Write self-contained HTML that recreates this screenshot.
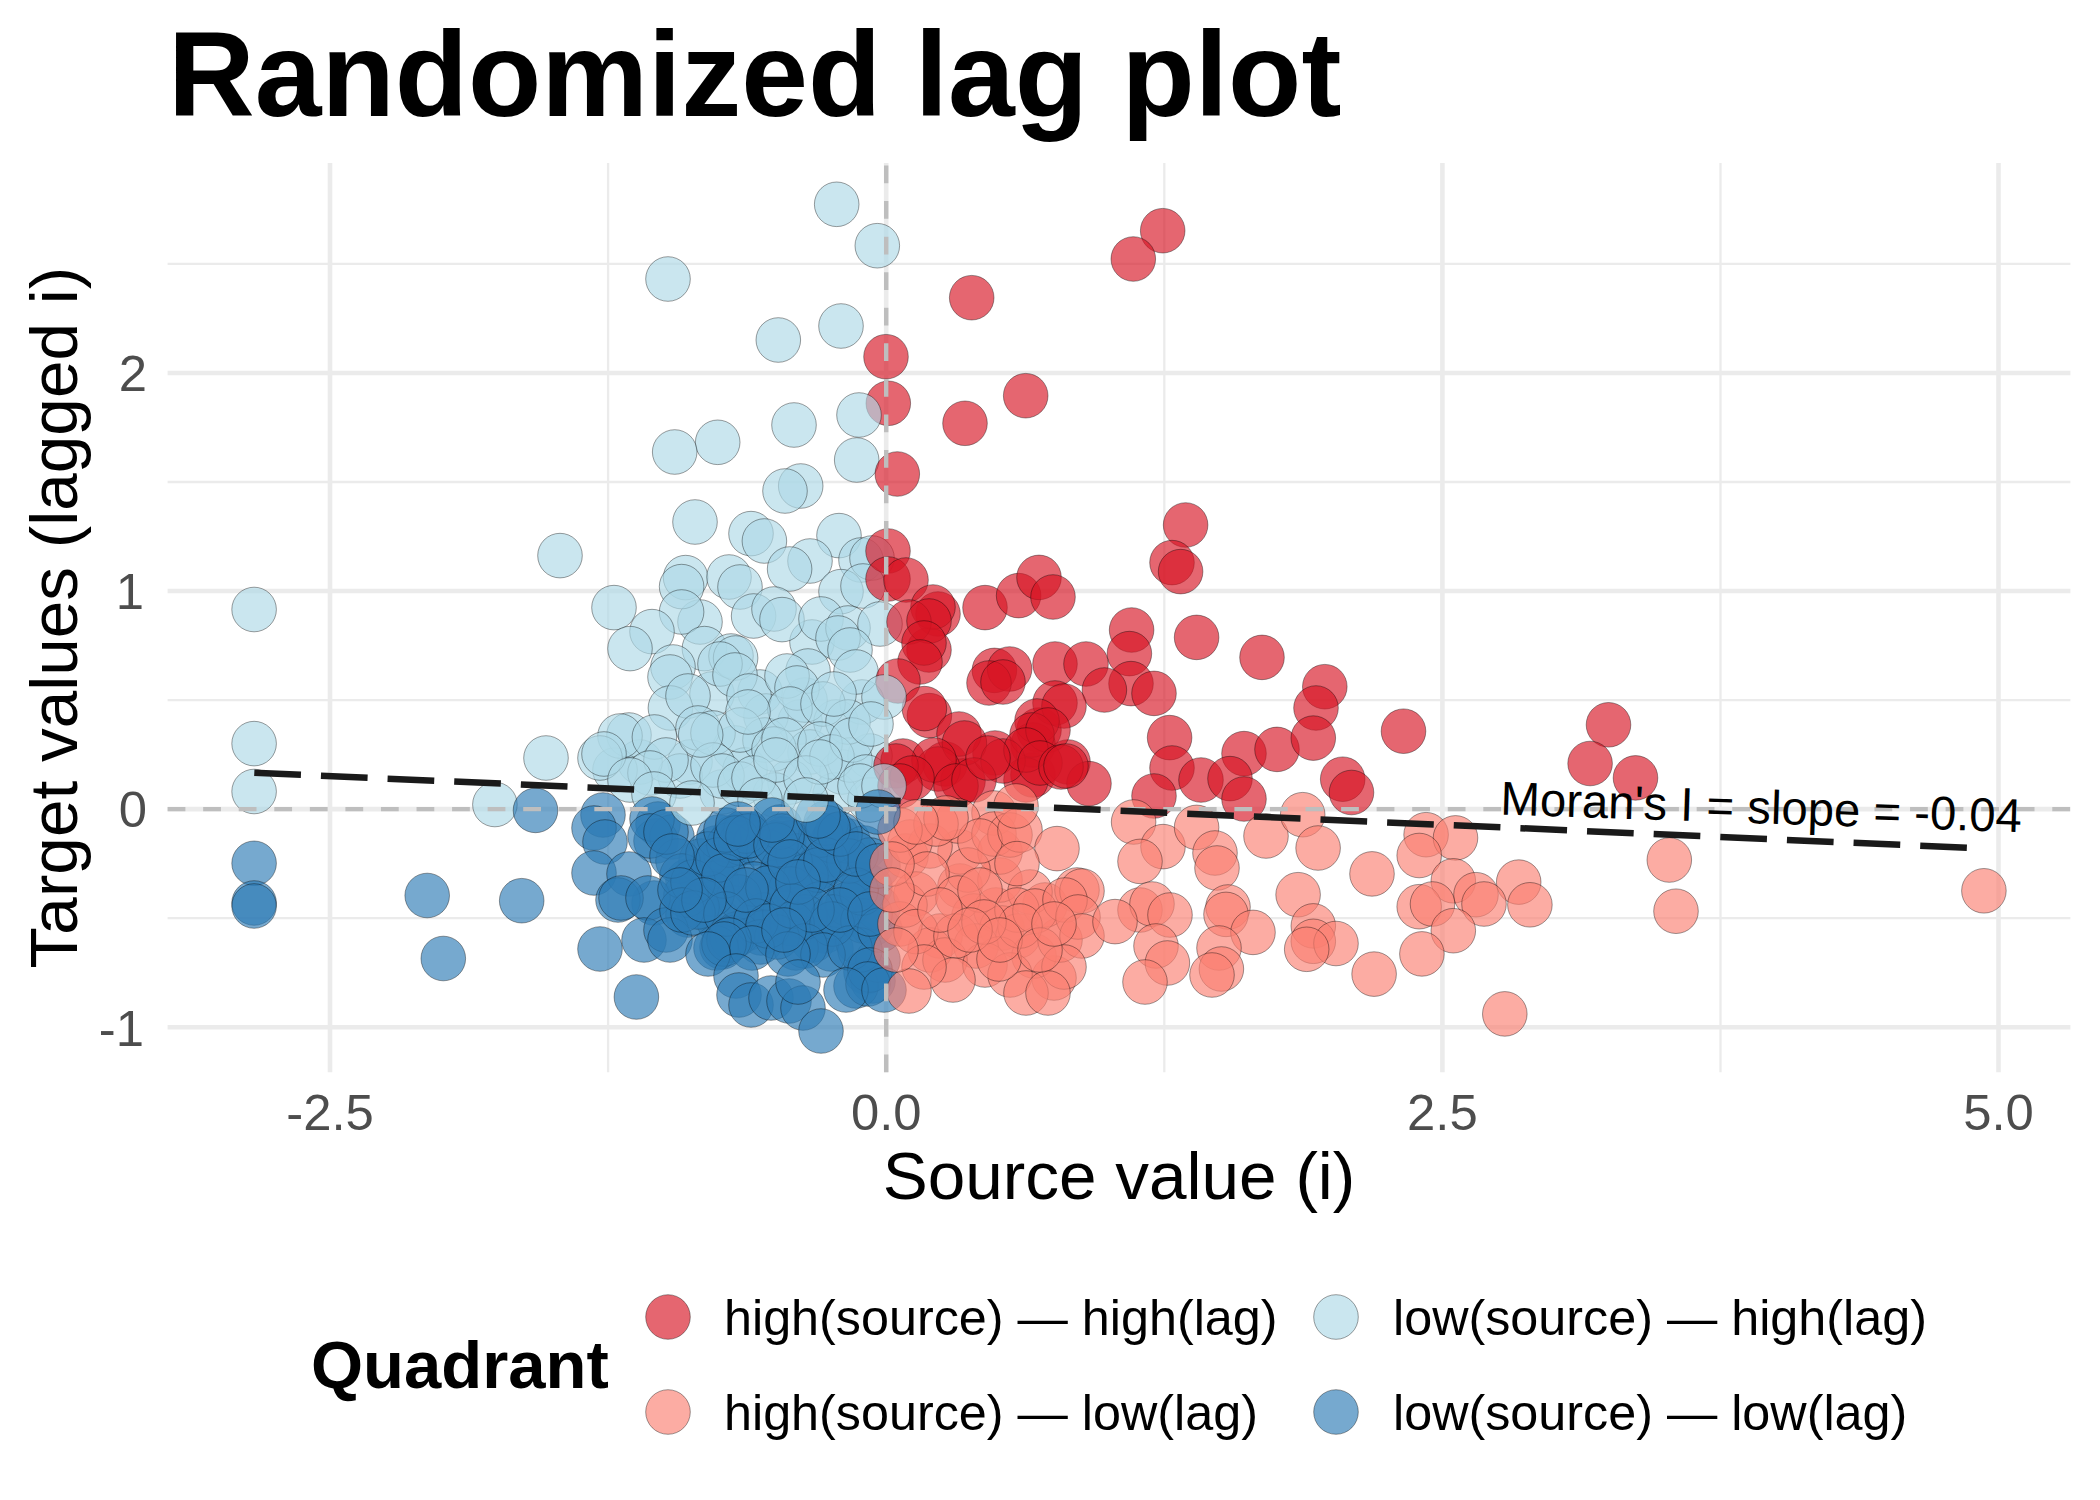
<!DOCTYPE html>
<html><head><meta charset="utf-8"><title>Randomized lag plot</title>
<style>
html,body{margin:0;padding:0;background:#fff;}
body{width:2100px;height:1500px;overflow:hidden;font-family:"Liberation Sans",sans-serif;}
svg{display:block;}
text{font-family:"Liberation Sans",sans-serif;}
.tick{font-size:50.8px;fill:#4d4d4d;}
.axt{font-size:67.5px;fill:#000;}
.leg{font-size:50.3px;fill:#000;}
</style></head><body>
<svg width="2100" height="1500" viewBox="0 0 2100 1500">
<rect width="2100" height="1500" fill="#fff"/>
<text x="168" y="116" font-size="120" font-weight="bold" fill="#000">Randomized lag plot</text>
<g stroke="#ebebeb" fill="none">
<line x1="608.1" x2="608.1" y1="163" y2="1072.3" stroke-width="2.3"/>
<line x1="1164.3" x2="1164.3" y1="163" y2="1072.3" stroke-width="2.3"/>
<line x1="1720.5" x2="1720.5" y1="163" y2="1072.3" stroke-width="2.3"/>
<line y1="918.1" y2="918.1" x1="167.6" x2="2070.4" stroke-width="2.3"/>
<line y1="700.1" y2="700.1" x1="167.6" x2="2070.4" stroke-width="2.3"/>
<line y1="482.0" y2="482.0" x1="167.6" x2="2070.4" stroke-width="2.3"/>
<line y1="263.9" y2="263.9" x1="167.6" x2="2070.4" stroke-width="2.3"/>
<line x1="330.0" x2="330.0" y1="163" y2="1072.3" stroke-width="4.6"/>
<line x1="886.2" x2="886.2" y1="163" y2="1072.3" stroke-width="4.6"/>
<line x1="1442.4" x2="1442.4" y1="163" y2="1072.3" stroke-width="4.6"/>
<line x1="1998.5" x2="1998.5" y1="163" y2="1072.3" stroke-width="4.6"/>
<line y1="1027.2" y2="1027.2" x1="167.6" x2="2070.4" stroke-width="4.6"/>
<line y1="809.1" y2="809.1" x1="167.6" x2="2070.4" stroke-width="4.6"/>
<line y1="591.0" y2="591.0" x1="167.6" x2="2070.4" stroke-width="4.6"/>
<line y1="373.0" y2="373.0" x1="167.6" x2="2070.4" stroke-width="4.6"/>
</g>
<g stroke="#000" stroke-opacity="0.5" stroke-width="0.75" fill-opacity="0.65">
<circle cx="712.0" cy="694.0" r="22.3" fill="#add8e6"/>
<circle cx="760.0" cy="692.0" r="22.3" fill="#add8e6"/>
<circle cx="690.0" cy="762.0" r="22.3" fill="#add8e6"/>
<circle cx="735.0" cy="748.0" r="22.3" fill="#add8e6"/>
<circle cx="800.0" cy="722.0" r="22.3" fill="#add8e6"/>
<circle cx="766.0" cy="716.0" r="22.3" fill="#add8e6"/>
<circle cx="810.0" cy="752.0" r="22.3" fill="#add8e6"/>
<circle cx="842.0" cy="772.0" r="22.3" fill="#add8e6"/>
<circle cx="870.0" cy="756.0" r="22.3" fill="#add8e6"/>
<circle cx="790.0" cy="782.0" r="22.3" fill="#add8e6"/>
<circle cx="680.0" cy="776.0" r="22.3" fill="#add8e6"/>
<circle cx="722.0" cy="792.0" r="22.3" fill="#add8e6"/>
<circle cx="640.0" cy="762.0" r="22.3" fill="#add8e6"/>
<circle cx="836.0" cy="722.0" r="22.3" fill="#add8e6"/>
<circle cx="862.0" cy="702.0" r="22.3" fill="#add8e6"/>
<circle cx="812.0" cy="642.0" r="22.3" fill="#add8e6"/>
<circle cx="700.0" cy="622.0" r="22.3" fill="#add8e6"/>
<circle cx="745.0" cy="770.0" r="22.3" fill="#add8e6"/>
<circle cx="775.0" cy="795.0" r="22.3" fill="#add8e6"/>
<circle cx="835.0" cy="795.0" r="22.3" fill="#add8e6"/>
<circle cx="615.0" cy="770.0" r="22.3" fill="#add8e6"/>
<circle cx="870.0" cy="800.0" r="22.3" fill="#add8e6"/>
<circle cx="850.0" cy="760.0" r="22.3" fill="#add8e6"/>
<circle cx="805.0" cy="700.0" r="22.3" fill="#add8e6"/>
<circle cx="765.0" cy="740.0" r="22.3" fill="#add8e6"/>
<circle cx="836.7" cy="204.3" r="22.3" fill="#add8e6"/>
<circle cx="877.3" cy="245.7" r="22.3" fill="#add8e6"/>
<circle cx="668.0" cy="279.0" r="22.3" fill="#add8e6"/>
<circle cx="841.0" cy="326.0" r="22.3" fill="#add8e6"/>
<circle cx="778.3" cy="340.0" r="22.3" fill="#add8e6"/>
<circle cx="794.0" cy="425.0" r="22.3" fill="#add8e6"/>
<circle cx="717.7" cy="442.3" r="22.3" fill="#add8e6"/>
<circle cx="674.7" cy="452.0" r="22.3" fill="#add8e6"/>
<circle cx="856.7" cy="460.0" r="22.3" fill="#add8e6"/>
<circle cx="800.7" cy="486.0" r="22.3" fill="#add8e6"/>
<circle cx="785.0" cy="491.0" r="22.3" fill="#add8e6"/>
<circle cx="560.0" cy="555.6" r="22.3" fill="#add8e6"/>
<circle cx="695.0" cy="522.0" r="22.3" fill="#add8e6"/>
<circle cx="751.0" cy="533.6" r="22.3" fill="#add8e6"/>
<circle cx="764.4" cy="541.0" r="22.3" fill="#add8e6"/>
<circle cx="839.0" cy="535.6" r="22.3" fill="#add8e6"/>
<circle cx="810.0" cy="561.0" r="22.3" fill="#add8e6"/>
<circle cx="789.6" cy="569.0" r="22.3" fill="#add8e6"/>
<circle cx="861.0" cy="560.0" r="22.3" fill="#add8e6"/>
<circle cx="872.0" cy="558.0" r="22.3" fill="#add8e6"/>
<circle cx="685.6" cy="577.6" r="22.3" fill="#add8e6"/>
<circle cx="681.6" cy="586.6" r="22.3" fill="#add8e6"/>
<circle cx="729.0" cy="577.0" r="22.3" fill="#add8e6"/>
<circle cx="740.0" cy="587.0" r="22.3" fill="#add8e6"/>
<circle cx="841.0" cy="591.6" r="22.3" fill="#add8e6"/>
<circle cx="863.0" cy="586.0" r="22.3" fill="#add8e6"/>
<circle cx="614.0" cy="607.6" r="22.3" fill="#add8e6"/>
<circle cx="681.6" cy="612.0" r="22.3" fill="#add8e6"/>
<circle cx="753.6" cy="616.0" r="22.3" fill="#add8e6"/>
<circle cx="774.0" cy="609.0" r="22.3" fill="#add8e6"/>
<circle cx="782.0" cy="619.6" r="22.3" fill="#add8e6"/>
<circle cx="821.0" cy="619.0" r="22.3" fill="#add8e6"/>
<circle cx="848.0" cy="628.0" r="22.3" fill="#add8e6"/>
<circle cx="838.0" cy="638.0" r="22.3" fill="#add8e6"/>
<circle cx="880.0" cy="624.0" r="22.3" fill="#add8e6"/>
<circle cx="652.0" cy="631.6" r="22.3" fill="#add8e6"/>
<circle cx="630.0" cy="648.6" r="22.3" fill="#add8e6"/>
<circle cx="704.4" cy="648.6" r="22.3" fill="#add8e6"/>
<circle cx="731.0" cy="656.0" r="22.3" fill="#add8e6"/>
<circle cx="735.6" cy="658.0" r="22.3" fill="#add8e6"/>
<circle cx="673.0" cy="667.0" r="22.3" fill="#add8e6"/>
<circle cx="670.0" cy="677.0" r="22.3" fill="#add8e6"/>
<circle cx="720.0" cy="664.0" r="22.3" fill="#add8e6"/>
<circle cx="735.0" cy="675.0" r="22.3" fill="#add8e6"/>
<circle cx="749.0" cy="696.0" r="22.3" fill="#add8e6"/>
<circle cx="808.0" cy="671.0" r="22.3" fill="#add8e6"/>
<circle cx="787.0" cy="676.0" r="22.3" fill="#add8e6"/>
<circle cx="797.0" cy="688.0" r="22.3" fill="#add8e6"/>
<circle cx="790.0" cy="709.0" r="22.3" fill="#add8e6"/>
<circle cx="823.0" cy="704.0" r="22.3" fill="#add8e6"/>
<circle cx="850.0" cy="650.0" r="22.3" fill="#add8e6"/>
<circle cx="856.0" cy="672.0" r="22.3" fill="#add8e6"/>
<circle cx="848.0" cy="722.0" r="22.3" fill="#add8e6"/>
<circle cx="834.0" cy="694.0" r="22.3" fill="#add8e6"/>
<circle cx="670.4" cy="708.0" r="22.3" fill="#add8e6"/>
<circle cx="688.0" cy="696.0" r="22.3" fill="#add8e6"/>
<circle cx="698.0" cy="728.0" r="22.3" fill="#add8e6"/>
<circle cx="713.0" cy="733.0" r="22.3" fill="#add8e6"/>
<circle cx="740.0" cy="730.0" r="22.3" fill="#add8e6"/>
<circle cx="748.0" cy="712.0" r="22.3" fill="#add8e6"/>
<circle cx="774.0" cy="749.0" r="22.3" fill="#add8e6"/>
<circle cx="784.0" cy="740.0" r="22.3" fill="#add8e6"/>
<circle cx="820.0" cy="744.0" r="22.3" fill="#add8e6"/>
<circle cx="832.0" cy="757.0" r="22.3" fill="#add8e6"/>
<circle cx="852.0" cy="740.0" r="22.3" fill="#add8e6"/>
<circle cx="629.0" cy="735.0" r="22.3" fill="#add8e6"/>
<circle cx="620.0" cy="736.0" r="22.3" fill="#add8e6"/>
<circle cx="654.4" cy="737.0" r="22.3" fill="#add8e6"/>
<circle cx="600.0" cy="758.0" r="22.3" fill="#add8e6"/>
<circle cx="604.0" cy="754.0" r="22.3" fill="#add8e6"/>
<circle cx="666.0" cy="760.0" r="22.3" fill="#add8e6"/>
<circle cx="650.0" cy="773.0" r="22.3" fill="#add8e6"/>
<circle cx="630.0" cy="780.0" r="22.3" fill="#add8e6"/>
<circle cx="546.0" cy="758.0" r="22.3" fill="#add8e6"/>
<circle cx="713.0" cy="765.0" r="22.3" fill="#add8e6"/>
<circle cx="722.0" cy="776.0" r="22.3" fill="#add8e6"/>
<circle cx="740.0" cy="784.0" r="22.3" fill="#add8e6"/>
<circle cx="754.0" cy="778.0" r="22.3" fill="#add8e6"/>
<circle cx="776.0" cy="760.0" r="22.3" fill="#add8e6"/>
<circle cx="806.0" cy="778.0" r="22.3" fill="#add8e6"/>
<circle cx="866.0" cy="777.0" r="22.3" fill="#add8e6"/>
<circle cx="860.0" cy="786.0" r="22.3" fill="#add8e6"/>
<circle cx="654.0" cy="794.0" r="22.3" fill="#add8e6"/>
<circle cx="820.0" cy="762.0" r="22.3" fill="#add8e6"/>
<circle cx="760.0" cy="800.0" r="22.3" fill="#add8e6"/>
<circle cx="254.1" cy="609.5" r="22.3" fill="#add8e6"/>
<circle cx="254.1" cy="743.6" r="22.3" fill="#add8e6"/>
<circle cx="254.1" cy="791.5" r="22.3" fill="#add8e6"/>
<circle cx="494.9" cy="804.5" r="22.3" fill="#add8e6"/>
<circle cx="700.7" cy="735.0" r="22.3" fill="#add8e6"/>
<circle cx="658.0" cy="824.0" r="22.3" fill="#2c7bb6"/>
<circle cx="656.0" cy="841.0" r="22.3" fill="#2c7bb6"/>
<circle cx="672.0" cy="837.0" r="22.3" fill="#2c7bb6"/>
<circle cx="654.0" cy="903.0" r="22.3" fill="#2c7bb6"/>
<circle cx="688.0" cy="881.0" r="22.3" fill="#2c7bb6"/>
<circle cx="701.0" cy="876.0" r="22.3" fill="#2c7bb6"/>
<circle cx="688.0" cy="915.0" r="22.3" fill="#2c7bb6"/>
<circle cx="701.0" cy="907.0" r="22.3" fill="#2c7bb6"/>
<circle cx="716.0" cy="848.0" r="22.3" fill="#2c7bb6"/>
<circle cx="701.0" cy="861.0" r="22.3" fill="#2c7bb6"/>
<circle cx="726.0" cy="854.0" r="22.3" fill="#2c7bb6"/>
<circle cx="711.0" cy="867.0" r="22.3" fill="#2c7bb6"/>
<circle cx="732.0" cy="870.0" r="22.3" fill="#2c7bb6"/>
<circle cx="717.0" cy="883.0" r="22.3" fill="#2c7bb6"/>
<circle cx="734.0" cy="837.0" r="22.3" fill="#2c7bb6"/>
<circle cx="719.0" cy="837.0" r="22.3" fill="#2c7bb6"/>
<circle cx="744.0" cy="832.0" r="22.3" fill="#2c7bb6"/>
<circle cx="729.0" cy="845.0" r="22.3" fill="#2c7bb6"/>
<circle cx="756.0" cy="843.0" r="22.3" fill="#2c7bb6"/>
<circle cx="741.0" cy="843.0" r="22.3" fill="#2c7bb6"/>
<circle cx="784.0" cy="839.0" r="22.3" fill="#2c7bb6"/>
<circle cx="769.0" cy="852.0" r="22.3" fill="#2c7bb6"/>
<circle cx="790.0" cy="843.0" r="22.3" fill="#2c7bb6"/>
<circle cx="775.0" cy="843.0" r="22.3" fill="#2c7bb6"/>
<circle cx="776.0" cy="882.0" r="22.3" fill="#2c7bb6"/>
<circle cx="761.0" cy="895.0" r="22.3" fill="#2c7bb6"/>
<circle cx="734.0" cy="908.0" r="22.3" fill="#2c7bb6"/>
<circle cx="719.0" cy="921.0" r="22.3" fill="#2c7bb6"/>
<circle cx="764.0" cy="915.0" r="22.3" fill="#2c7bb6"/>
<circle cx="749.0" cy="928.0" r="22.3" fill="#2c7bb6"/>
<circle cx="776.0" cy="920.0" r="22.3" fill="#2c7bb6"/>
<circle cx="761.0" cy="933.0" r="22.3" fill="#2c7bb6"/>
<circle cx="737.0" cy="934.0" r="22.3" fill="#2c7bb6"/>
<circle cx="722.0" cy="947.0" r="22.3" fill="#2c7bb6"/>
<circle cx="732.0" cy="938.0" r="22.3" fill="#2c7bb6"/>
<circle cx="760.0" cy="942.0" r="22.3" fill="#2c7bb6"/>
<circle cx="716.0" cy="948.0" r="22.3" fill="#2c7bb6"/>
<circle cx="800.0" cy="900.0" r="22.3" fill="#2c7bb6"/>
<circle cx="785.0" cy="913.0" r="22.3" fill="#2c7bb6"/>
<circle cx="798.0" cy="856.0" r="22.3" fill="#2c7bb6"/>
<circle cx="783.0" cy="869.0" r="22.3" fill="#2c7bb6"/>
<circle cx="826.0" cy="864.0" r="22.3" fill="#2c7bb6"/>
<circle cx="811.0" cy="877.0" r="22.3" fill="#2c7bb6"/>
<circle cx="834.0" cy="854.0" r="22.3" fill="#2c7bb6"/>
<circle cx="819.0" cy="867.0" r="22.3" fill="#2c7bb6"/>
<circle cx="848.0" cy="841.0" r="22.3" fill="#2c7bb6"/>
<circle cx="833.0" cy="841.0" r="22.3" fill="#2c7bb6"/>
<circle cx="836.0" cy="835.0" r="22.3" fill="#2c7bb6"/>
<circle cx="821.0" cy="835.0" r="22.3" fill="#2c7bb6"/>
<circle cx="870.0" cy="887.0" r="22.3" fill="#2c7bb6"/>
<circle cx="855.0" cy="900.0" r="22.3" fill="#2c7bb6"/>
<circle cx="864.0" cy="884.0" r="22.3" fill="#2c7bb6"/>
<circle cx="849.0" cy="897.0" r="22.3" fill="#2c7bb6"/>
<circle cx="840.0" cy="918.0" r="22.3" fill="#2c7bb6"/>
<circle cx="825.0" cy="931.0" r="22.3" fill="#2c7bb6"/>
<circle cx="813.0" cy="940.0" r="22.3" fill="#2c7bb6"/>
<circle cx="831.0" cy="949.0" r="22.3" fill="#2c7bb6"/>
<circle cx="796.0" cy="948.0" r="22.3" fill="#2c7bb6"/>
<circle cx="858.0" cy="942.0" r="22.3" fill="#2c7bb6"/>
<circle cx="872.0" cy="924.0" r="22.3" fill="#2c7bb6"/>
<circle cx="826.0" cy="823.0" r="22.3" fill="#2c7bb6"/>
<circle cx="780.0" cy="827.0" r="22.3" fill="#2c7bb6"/>
<circle cx="746.0" cy="831.0" r="22.3" fill="#2c7bb6"/>
<circle cx="806.0" cy="876.0" r="22.3" fill="#2c7bb6"/>
<circle cx="791.0" cy="889.0" r="22.3" fill="#2c7bb6"/>
<circle cx="754.0" cy="884.0" r="22.3" fill="#2c7bb6"/>
<circle cx="739.0" cy="897.0" r="22.3" fill="#2c7bb6"/>
<circle cx="820.0" cy="904.0" r="22.3" fill="#2c7bb6"/>
<circle cx="805.0" cy="917.0" r="22.3" fill="#2c7bb6"/>
<circle cx="848.0" cy="904.0" r="22.3" fill="#2c7bb6"/>
<circle cx="833.0" cy="917.0" r="22.3" fill="#2c7bb6"/>
<circle cx="792.0" cy="924.0" r="22.3" fill="#2c7bb6"/>
<circle cx="777.0" cy="937.0" r="22.3" fill="#2c7bb6"/>
<circle cx="712.0" cy="894.0" r="22.3" fill="#2c7bb6"/>
<circle cx="697.0" cy="907.0" r="22.3" fill="#2c7bb6"/>
<circle cx="678.0" cy="861.0" r="22.3" fill="#2c7bb6"/>
<circle cx="864.0" cy="848.0" r="22.3" fill="#2c7bb6"/>
<circle cx="849.0" cy="861.0" r="22.3" fill="#2c7bb6"/>
<circle cx="870.0" cy="860.0" r="22.3" fill="#2c7bb6"/>
<circle cx="878.0" cy="908.0" r="22.3" fill="#2c7bb6"/>
<circle cx="863.0" cy="921.0" r="22.3" fill="#2c7bb6"/>
<circle cx="686.0" cy="895.0" r="22.3" fill="#2c7bb6"/>
<circle cx="866.0" cy="972.0" r="22.3" fill="#2c7bb6"/>
<circle cx="873.0" cy="981.0" r="22.3" fill="#2c7bb6"/>
<circle cx="856.0" cy="986.0" r="22.3" fill="#2c7bb6"/>
<circle cx="878.0" cy="960.0" r="22.3" fill="#2c7bb6"/>
<circle cx="860.0" cy="950.0" r="22.3" fill="#2c7bb6"/>
<circle cx="254.1" cy="863.3" r="22.3" fill="#2c7bb6"/>
<circle cx="254.1" cy="903.0" r="22.3" fill="#2c7bb6"/>
<circle cx="254.1" cy="906.0" r="22.3" fill="#2c7bb6"/>
<circle cx="427.2" cy="895.5" r="22.3" fill="#2c7bb6"/>
<circle cx="521.7" cy="900.7" r="22.3" fill="#2c7bb6"/>
<circle cx="443.3" cy="958.5" r="22.3" fill="#2c7bb6"/>
<circle cx="535.5" cy="810.4" r="22.3" fill="#2c7bb6"/>
<circle cx="603.0" cy="815.0" r="22.3" fill="#2c7bb6"/>
<circle cx="594.0" cy="828.0" r="22.3" fill="#2c7bb6"/>
<circle cx="605.0" cy="842.0" r="22.3" fill="#2c7bb6"/>
<circle cx="652.0" cy="819.0" r="22.3" fill="#2c7bb6"/>
<circle cx="650.0" cy="836.0" r="22.3" fill="#2c7bb6"/>
<circle cx="666.0" cy="832.0" r="22.3" fill="#2c7bb6"/>
<circle cx="594.0" cy="873.0" r="22.3" fill="#2c7bb6"/>
<circle cx="629.0" cy="874.0" r="22.3" fill="#2c7bb6"/>
<circle cx="618.0" cy="900.0" r="22.3" fill="#2c7bb6"/>
<circle cx="621.0" cy="898.0" r="22.3" fill="#2c7bb6"/>
<circle cx="648.0" cy="898.0" r="22.3" fill="#2c7bb6"/>
<circle cx="600.0" cy="949.0" r="22.3" fill="#2c7bb6"/>
<circle cx="644.0" cy="940.0" r="22.3" fill="#2c7bb6"/>
<circle cx="666.0" cy="930.0" r="22.3" fill="#2c7bb6"/>
<circle cx="670.0" cy="940.0" r="22.3" fill="#2c7bb6"/>
<circle cx="636.4" cy="997.0" r="22.3" fill="#2c7bb6"/>
<circle cx="682.0" cy="876.0" r="22.3" fill="#2c7bb6"/>
<circle cx="693.0" cy="882.0" r="22.3" fill="#2c7bb6"/>
<circle cx="682.0" cy="910.0" r="22.3" fill="#2c7bb6"/>
<circle cx="693.0" cy="913.0" r="22.3" fill="#2c7bb6"/>
<circle cx="708.0" cy="854.0" r="22.3" fill="#2c7bb6"/>
<circle cx="718.0" cy="860.0" r="22.3" fill="#2c7bb6"/>
<circle cx="724.0" cy="876.0" r="22.3" fill="#2c7bb6"/>
<circle cx="726.0" cy="830.0" r="22.3" fill="#2c7bb6"/>
<circle cx="736.0" cy="838.0" r="22.3" fill="#2c7bb6"/>
<circle cx="748.0" cy="836.0" r="22.3" fill="#2c7bb6"/>
<circle cx="776.0" cy="845.0" r="22.3" fill="#2c7bb6"/>
<circle cx="782.0" cy="836.0" r="22.3" fill="#2c7bb6"/>
<circle cx="768.0" cy="888.0" r="22.3" fill="#2c7bb6"/>
<circle cx="726.0" cy="914.0" r="22.3" fill="#2c7bb6"/>
<circle cx="756.0" cy="921.0" r="22.3" fill="#2c7bb6"/>
<circle cx="768.0" cy="926.0" r="22.3" fill="#2c7bb6"/>
<circle cx="729.0" cy="940.0" r="22.3" fill="#2c7bb6"/>
<circle cx="724.0" cy="944.0" r="22.3" fill="#2c7bb6"/>
<circle cx="752.0" cy="948.0" r="22.3" fill="#2c7bb6"/>
<circle cx="708.0" cy="954.0" r="22.3" fill="#2c7bb6"/>
<circle cx="792.0" cy="906.0" r="22.3" fill="#2c7bb6"/>
<circle cx="790.0" cy="862.0" r="22.3" fill="#2c7bb6"/>
<circle cx="818.0" cy="870.0" r="22.3" fill="#2c7bb6"/>
<circle cx="826.0" cy="860.0" r="22.3" fill="#2c7bb6"/>
<circle cx="840.0" cy="834.0" r="22.3" fill="#2c7bb6"/>
<circle cx="828.0" cy="828.0" r="22.3" fill="#2c7bb6"/>
<circle cx="862.0" cy="893.0" r="22.3" fill="#2c7bb6"/>
<circle cx="856.0" cy="890.0" r="22.3" fill="#2c7bb6"/>
<circle cx="832.0" cy="924.0" r="22.3" fill="#2c7bb6"/>
<circle cx="805.0" cy="946.0" r="22.3" fill="#2c7bb6"/>
<circle cx="823.0" cy="955.0" r="22.3" fill="#2c7bb6"/>
<circle cx="788.0" cy="954.0" r="22.3" fill="#2c7bb6"/>
<circle cx="850.0" cy="948.0" r="22.3" fill="#2c7bb6"/>
<circle cx="880.0" cy="930.0" r="22.3" fill="#2c7bb6"/>
<circle cx="870.0" cy="970.0" r="22.3" fill="#2c7bb6"/>
<circle cx="868.0" cy="984.0" r="22.3" fill="#2c7bb6"/>
<circle cx="846.0" cy="990.0" r="22.3" fill="#2c7bb6"/>
<circle cx="884.0" cy="990.0" r="22.3" fill="#2c7bb6"/>
<circle cx="736.0" cy="976.0" r="22.3" fill="#2c7bb6"/>
<circle cx="739.0" cy="995.0" r="22.3" fill="#2c7bb6"/>
<circle cx="751.0" cy="1005.0" r="22.3" fill="#2c7bb6"/>
<circle cx="771.0" cy="998.0" r="22.3" fill="#2c7bb6"/>
<circle cx="789.0" cy="1001.0" r="22.3" fill="#2c7bb6"/>
<circle cx="803.0" cy="1008.0" r="22.3" fill="#2c7bb6"/>
<circle cx="821.0" cy="1031.0" r="22.3" fill="#2c7bb6"/>
<circle cx="798.0" cy="982.0" r="22.3" fill="#2c7bb6"/>
<circle cx="818.0" cy="816.0" r="22.3" fill="#2c7bb6"/>
<circle cx="772.0" cy="820.0" r="22.3" fill="#2c7bb6"/>
<circle cx="738.0" cy="824.0" r="22.3" fill="#2c7bb6"/>
<circle cx="798.0" cy="882.0" r="22.3" fill="#2c7bb6"/>
<circle cx="746.0" cy="890.0" r="22.3" fill="#2c7bb6"/>
<circle cx="812.0" cy="910.0" r="22.3" fill="#2c7bb6"/>
<circle cx="840.0" cy="910.0" r="22.3" fill="#2c7bb6"/>
<circle cx="784.0" cy="930.0" r="22.3" fill="#2c7bb6"/>
<circle cx="704.0" cy="900.0" r="22.3" fill="#2c7bb6"/>
<circle cx="672.0" cy="856.0" r="22.3" fill="#2c7bb6"/>
<circle cx="856.0" cy="854.0" r="22.3" fill="#2c7bb6"/>
<circle cx="878.0" cy="866.0" r="22.3" fill="#2c7bb6"/>
<circle cx="870.0" cy="914.0" r="22.3" fill="#2c7bb6"/>
<circle cx="680.0" cy="890.0" r="22.3" fill="#2c7bb6"/>
<circle cx="938.0" cy="614.0" r="22.3" fill="#d71424"/>
<circle cx="929.0" cy="650.0" r="22.3" fill="#d71424"/>
<circle cx="929.4" cy="715.6" r="22.3" fill="#d71424"/>
<circle cx="1039.0" cy="730.0" r="22.3" fill="#d71424"/>
<circle cx="1033.0" cy="775.0" r="22.3" fill="#d71424"/>
<circle cx="1033.0" cy="745.0" r="22.3" fill="#d71424"/>
<circle cx="1068.0" cy="762.0" r="22.3" fill="#d71424"/>
<circle cx="945.0" cy="764.0" r="22.3" fill="#d71424"/>
<circle cx="903.0" cy="761.0" r="22.3" fill="#d71424"/>
<circle cx="963.0" cy="781.0" r="22.3" fill="#d71424"/>
<circle cx="995.0" cy="753.0" r="22.3" fill="#d71424"/>
<circle cx="1162.7" cy="230.7" r="22.3" fill="#d71424"/>
<circle cx="1133.3" cy="259.0" r="22.3" fill="#d71424"/>
<circle cx="971.7" cy="297.7" r="22.3" fill="#d71424"/>
<circle cx="886.0" cy="356.7" r="22.3" fill="#d71424"/>
<circle cx="1025.7" cy="395.7" r="22.3" fill="#d71424"/>
<circle cx="888.3" cy="403.3" r="22.3" fill="#d71424"/>
<circle cx="965.0" cy="423.3" r="22.3" fill="#d71424"/>
<circle cx="897.3" cy="474.0" r="22.3" fill="#d71424"/>
<circle cx="888.0" cy="551.0" r="22.3" fill="#d71424"/>
<circle cx="888.0" cy="579.0" r="22.3" fill="#d71424"/>
<circle cx="906.0" cy="580.0" r="22.3" fill="#d71424"/>
<circle cx="933.0" cy="607.0" r="22.3" fill="#d71424"/>
<circle cx="909.0" cy="622.0" r="22.3" fill="#d71424"/>
<circle cx="929.0" cy="621.0" r="22.3" fill="#d71424"/>
<circle cx="924.0" cy="643.0" r="22.3" fill="#d71424"/>
<circle cx="920.0" cy="662.0" r="22.3" fill="#d71424"/>
<circle cx="898.0" cy="681.0" r="22.3" fill="#d71424"/>
<circle cx="924.4" cy="708.6" r="22.3" fill="#d71424"/>
<circle cx="985.0" cy="607.6" r="22.3" fill="#d71424"/>
<circle cx="1018.6" cy="595.6" r="22.3" fill="#d71424"/>
<circle cx="1039.0" cy="577.4" r="22.3" fill="#d71424"/>
<circle cx="1053.0" cy="597.0" r="22.3" fill="#d71424"/>
<circle cx="1185.6" cy="525.0" r="22.3" fill="#d71424"/>
<circle cx="1172.0" cy="562.6" r="22.3" fill="#d71424"/>
<circle cx="1180.6" cy="571.6" r="22.3" fill="#d71424"/>
<circle cx="1131.6" cy="630.0" r="22.3" fill="#d71424"/>
<circle cx="1129.4" cy="653.6" r="22.3" fill="#d71424"/>
<circle cx="1196.6" cy="637.4" r="22.3" fill="#d71424"/>
<circle cx="1262.0" cy="657.4" r="22.3" fill="#d71424"/>
<circle cx="994.4" cy="670.4" r="22.3" fill="#d71424"/>
<circle cx="1009.6" cy="669.0" r="22.3" fill="#d71424"/>
<circle cx="989.0" cy="683.0" r="22.3" fill="#d71424"/>
<circle cx="1003.0" cy="682.0" r="22.3" fill="#d71424"/>
<circle cx="1055.0" cy="664.0" r="22.3" fill="#d71424"/>
<circle cx="1086.0" cy="664.0" r="22.3" fill="#d71424"/>
<circle cx="1131.0" cy="683.6" r="22.3" fill="#d71424"/>
<circle cx="1104.4" cy="690.0" r="22.3" fill="#d71424"/>
<circle cx="1154.0" cy="693.4" r="22.3" fill="#d71424"/>
<circle cx="1055.0" cy="703.0" r="22.3" fill="#d71424"/>
<circle cx="1064.0" cy="706.0" r="22.3" fill="#d71424"/>
<circle cx="1037.0" cy="721.0" r="22.3" fill="#d71424"/>
<circle cx="1032.0" cy="735.0" r="22.3" fill="#d71424"/>
<circle cx="1048.0" cy="730.0" r="22.3" fill="#d71424"/>
<circle cx="959.0" cy="734.0" r="22.3" fill="#d71424"/>
<circle cx="964.4" cy="743.0" r="22.3" fill="#d71424"/>
<circle cx="1169.6" cy="737.6" r="22.3" fill="#d71424"/>
<circle cx="1244.0" cy="753.6" r="22.3" fill="#d71424"/>
<circle cx="1277.0" cy="749.4" r="22.3" fill="#d71424"/>
<circle cx="1172.0" cy="768.0" r="22.3" fill="#d71424"/>
<circle cx="1201.0" cy="780.0" r="22.3" fill="#d71424"/>
<circle cx="1230.0" cy="778.6" r="22.3" fill="#d71424"/>
<circle cx="1154.0" cy="796.0" r="22.3" fill="#d71424"/>
<circle cx="1244.0" cy="799.0" r="22.3" fill="#d71424"/>
<circle cx="1089.0" cy="783.6" r="22.3" fill="#d71424"/>
<circle cx="1026.0" cy="780.0" r="22.3" fill="#d71424"/>
<circle cx="1003.0" cy="761.0" r="22.3" fill="#d71424"/>
<circle cx="1026.0" cy="750.0" r="22.3" fill="#d71424"/>
<circle cx="1040.0" cy="763.0" r="22.3" fill="#d71424"/>
<circle cx="1061.0" cy="767.0" r="22.3" fill="#d71424"/>
<circle cx="1066.0" cy="766.0" r="22.3" fill="#d71424"/>
<circle cx="938.0" cy="769.0" r="22.3" fill="#d71424"/>
<circle cx="934.0" cy="760.0" r="22.3" fill="#d71424"/>
<circle cx="896.0" cy="766.0" r="22.3" fill="#d71424"/>
<circle cx="912.0" cy="778.0" r="22.3" fill="#d71424"/>
<circle cx="956.0" cy="786.0" r="22.3" fill="#d71424"/>
<circle cx="974.0" cy="780.0" r="22.3" fill="#d71424"/>
<circle cx="988.0" cy="758.0" r="22.3" fill="#d71424"/>
<circle cx="900.0" cy="786.0" r="22.3" fill="#d71424"/>
<circle cx="1324.8" cy="686.7" r="22.3" fill="#d71424"/>
<circle cx="1316.0" cy="708.0" r="22.3" fill="#d71424"/>
<circle cx="1313.3" cy="738.1" r="22.3" fill="#d71424"/>
<circle cx="1403.5" cy="731.2" r="22.3" fill="#d71424"/>
<circle cx="1342.7" cy="779.2" r="22.3" fill="#d71424"/>
<circle cx="1351.5" cy="792.5" r="22.3" fill="#d71424"/>
<circle cx="1608.5" cy="724.8" r="22.3" fill="#d71424"/>
<circle cx="1590.1" cy="763.5" r="22.3" fill="#d71424"/>
<circle cx="1635.5" cy="777.9" r="22.3" fill="#d71424"/>
<circle cx="906.0" cy="856.0" r="22.3" fill="#fa8072"/>
<circle cx="960.0" cy="886.0" r="22.3" fill="#fa8072"/>
<circle cx="916.0" cy="894.0" r="22.3" fill="#fa8072"/>
<circle cx="974.0" cy="916.0" r="22.3" fill="#fa8072"/>
<circle cx="996.0" cy="910.0" r="22.3" fill="#fa8072"/>
<circle cx="1002.0" cy="928.0" r="22.3" fill="#fa8072"/>
<circle cx="1018.0" cy="936.0" r="22.3" fill="#fa8072"/>
<circle cx="940.0" cy="936.0" r="22.3" fill="#fa8072"/>
<circle cx="930.0" cy="950.0" r="22.3" fill="#fa8072"/>
<circle cx="976.0" cy="946.0" r="22.3" fill="#fa8072"/>
<circle cx="900.0" cy="924.0" r="22.3" fill="#fa8072"/>
<circle cx="1054.0" cy="978.0" r="22.3" fill="#fa8072"/>
<circle cx="1034.0" cy="956.0" r="22.3" fill="#fa8072"/>
<circle cx="1000.0" cy="880.0" r="22.3" fill="#fa8072"/>
<circle cx="960.0" cy="852.0" r="22.3" fill="#fa8072"/>
<circle cx="930.0" cy="846.0" r="22.3" fill="#fa8072"/>
<circle cx="1000.0" cy="852.0" r="22.3" fill="#fa8072"/>
<circle cx="905.0" cy="905.0" r="22.3" fill="#fa8072"/>
<circle cx="945.0" cy="960.0" r="22.3" fill="#fa8072"/>
<circle cx="985.0" cy="965.0" r="22.3" fill="#fa8072"/>
<circle cx="1010.0" cy="975.0" r="22.3" fill="#fa8072"/>
<circle cx="1060.0" cy="940.0" r="22.3" fill="#fa8072"/>
<circle cx="1045.0" cy="905.0" r="22.3" fill="#fa8072"/>
<circle cx="968.0" cy="870.0" r="22.3" fill="#fa8072"/>
<circle cx="910.0" cy="842.0" r="22.3" fill="#fa8072"/>
<circle cx="1030.0" cy="892.0" r="22.3" fill="#fa8072"/>
<circle cx="994.0" cy="813.0" r="22.3" fill="#fa8072"/>
<circle cx="958.0" cy="821.0" r="22.3" fill="#fa8072"/>
<circle cx="994.0" cy="834.0" r="22.3" fill="#fa8072"/>
<circle cx="1010.0" cy="835.0" r="22.3" fill="#fa8072"/>
<circle cx="980.0" cy="841.0" r="22.3" fill="#fa8072"/>
<circle cx="936.0" cy="824.0" r="22.3" fill="#fa8072"/>
<circle cx="900.0" cy="830.0" r="22.3" fill="#fa8072"/>
<circle cx="1020.0" cy="830.0" r="22.3" fill="#fa8072"/>
<circle cx="1057.0" cy="848.6" r="22.3" fill="#fa8072"/>
<circle cx="1017.0" cy="863.6" r="22.3" fill="#fa8072"/>
<circle cx="927.0" cy="874.0" r="22.3" fill="#fa8072"/>
<circle cx="958.0" cy="898.0" r="22.3" fill="#fa8072"/>
<circle cx="980.0" cy="890.0" r="22.3" fill="#fa8072"/>
<circle cx="916.0" cy="931.6" r="22.3" fill="#fa8072"/>
<circle cx="956.0" cy="936.0" r="22.3" fill="#fa8072"/>
<circle cx="1017.0" cy="910.0" r="22.3" fill="#fa8072"/>
<circle cx="1035.0" cy="911.0" r="22.3" fill="#fa8072"/>
<circle cx="1077.0" cy="890.0" r="22.3" fill="#fa8072"/>
<circle cx="1082.0" cy="891.0" r="22.3" fill="#fa8072"/>
<circle cx="1065.0" cy="900.0" r="22.3" fill="#fa8072"/>
<circle cx="1078.0" cy="917.0" r="22.3" fill="#fa8072"/>
<circle cx="1082.0" cy="936.0" r="22.3" fill="#fa8072"/>
<circle cx="1064.0" cy="967.0" r="22.3" fill="#fa8072"/>
<circle cx="1026.0" cy="993.0" r="22.3" fill="#fa8072"/>
<circle cx="1048.0" cy="993.0" r="22.3" fill="#fa8072"/>
<circle cx="953.0" cy="980.0" r="22.3" fill="#fa8072"/>
<circle cx="924.0" cy="967.0" r="22.3" fill="#fa8072"/>
<circle cx="909.0" cy="991.0" r="22.3" fill="#fa8072"/>
<circle cx="999.0" cy="959.0" r="22.3" fill="#fa8072"/>
<circle cx="1020.0" cy="926.0" r="22.3" fill="#fa8072"/>
<circle cx="984.0" cy="922.0" r="22.3" fill="#fa8072"/>
<circle cx="1133.6" cy="822.0" r="22.3" fill="#fa8072"/>
<circle cx="1163.0" cy="846.6" r="22.3" fill="#fa8072"/>
<circle cx="1196.6" cy="827.4" r="22.3" fill="#fa8072"/>
<circle cx="1140.0" cy="861.4" r="22.3" fill="#fa8072"/>
<circle cx="1215.0" cy="853.0" r="22.3" fill="#fa8072"/>
<circle cx="1217.0" cy="868.0" r="22.3" fill="#fa8072"/>
<circle cx="1266.0" cy="836.0" r="22.3" fill="#fa8072"/>
<circle cx="1140.0" cy="910.0" r="22.3" fill="#fa8072"/>
<circle cx="1152.0" cy="904.0" r="22.3" fill="#fa8072"/>
<circle cx="1170.0" cy="915.0" r="22.3" fill="#fa8072"/>
<circle cx="1115.0" cy="921.6" r="22.3" fill="#fa8072"/>
<circle cx="1228.0" cy="907.0" r="22.3" fill="#fa8072"/>
<circle cx="1226.0" cy="914.4" r="22.3" fill="#fa8072"/>
<circle cx="1253.0" cy="932.4" r="22.3" fill="#fa8072"/>
<circle cx="1156.0" cy="946.0" r="22.3" fill="#fa8072"/>
<circle cx="1167.4" cy="963.0" r="22.3" fill="#fa8072"/>
<circle cx="1219.0" cy="948.0" r="22.3" fill="#fa8072"/>
<circle cx="1221.4" cy="969.0" r="22.3" fill="#fa8072"/>
<circle cx="1212.0" cy="975.0" r="22.3" fill="#fa8072"/>
<circle cx="1145.0" cy="982.0" r="22.3" fill="#fa8072"/>
<circle cx="892.0" cy="864.0" r="22.3" fill="#fa8072"/>
<circle cx="892.0" cy="890.0" r="22.3" fill="#fa8072"/>
<circle cx="896.0" cy="950.0" r="22.3" fill="#fa8072"/>
<circle cx="940.0" cy="910.0" r="22.3" fill="#fa8072"/>
<circle cx="970.0" cy="930.0" r="22.3" fill="#fa8072"/>
<circle cx="1000.0" cy="940.0" r="22.3" fill="#fa8072"/>
<circle cx="1040.0" cy="950.0" r="22.3" fill="#fa8072"/>
<circle cx="1054.0" cy="924.0" r="22.3" fill="#fa8072"/>
<circle cx="1016.0" cy="806.0" r="22.3" fill="#fa8072"/>
<circle cx="946.0" cy="818.0" r="22.3" fill="#fa8072"/>
<circle cx="916.0" cy="822.0" r="22.3" fill="#fa8072"/>
<circle cx="1302.7" cy="814.7" r="22.3" fill="#fa8072"/>
<circle cx="1318.1" cy="848.0" r="22.3" fill="#fa8072"/>
<circle cx="1372.0" cy="873.9" r="22.3" fill="#fa8072"/>
<circle cx="1426.1" cy="834.7" r="22.3" fill="#fa8072"/>
<circle cx="1455.5" cy="837.9" r="22.3" fill="#fa8072"/>
<circle cx="1419.2" cy="855.5" r="22.3" fill="#fa8072"/>
<circle cx="1453.3" cy="880.8" r="22.3" fill="#fa8072"/>
<circle cx="1518.7" cy="882.1" r="22.3" fill="#fa8072"/>
<circle cx="1476.0" cy="894.7" r="22.3" fill="#fa8072"/>
<circle cx="1484.0" cy="904.0" r="22.3" fill="#fa8072"/>
<circle cx="1529.9" cy="904.8" r="22.3" fill="#fa8072"/>
<circle cx="1419.2" cy="906.7" r="22.3" fill="#fa8072"/>
<circle cx="1432.5" cy="904.0" r="22.3" fill="#fa8072"/>
<circle cx="1453.3" cy="930.7" r="22.3" fill="#fa8072"/>
<circle cx="1298.1" cy="894.7" r="22.3" fill="#fa8072"/>
<circle cx="1313.3" cy="925.9" r="22.3" fill="#fa8072"/>
<circle cx="1313.3" cy="941.3" r="22.3" fill="#fa8072"/>
<circle cx="1336.0" cy="943.5" r="22.3" fill="#fa8072"/>
<circle cx="1306.7" cy="949.3" r="22.3" fill="#fa8072"/>
<circle cx="1421.9" cy="953.9" r="22.3" fill="#fa8072"/>
<circle cx="1374.1" cy="974.1" r="22.3" fill="#fa8072"/>
<circle cx="1504.8" cy="1013.9" r="22.3" fill="#fa8072"/>
<circle cx="1669.3" cy="860.0" r="22.3" fill="#fa8072"/>
<circle cx="1676.0" cy="911.2" r="22.3" fill="#fa8072"/>
<circle cx="1983.9" cy="890.8" r="22.3" fill="#fa8072"/>
<circle cx="859.0" cy="415.0" r="22.3" fill="#add8e6"/>
<circle cx="884.0" cy="697.0" r="22.3" fill="#add8e6"/>
<circle cx="871.0" cy="724.0" r="22.3" fill="#add8e6"/>
<circle cx="884.0" cy="786.0" r="22.3" fill="#add8e6"/>
<circle cx="692.0" cy="803.0" r="22.3" fill="#add8e6"/>
<circle cx="806.0" cy="800.0" r="22.3" fill="#add8e6"/>
<circle cx="878.0" cy="812.0" r="22.3" fill="#2c7bb6"/>
</g>
<line x1="886.2" x2="886.2" y1="1072.3" y2="163" stroke="#bebebe" stroke-width="4.4" stroke-dasharray="17.78 17.78"/>
<line y1="809.1" y2="809.1" x1="167.6" x2="2070.4" stroke="#bebebe" stroke-width="4.4" stroke-dasharray="17.78 17.78"/>
<line x1="254.3" y1="772.8" x2="1983.9" y2="848.5" stroke="#1a1a1a" stroke-width="6.5" stroke-dasharray="46.7 20"/>
<text transform="translate(1500,814.5) rotate(1.95)" font-size="47.3" fill="#000">Moran's I = slope = -0.04</text>
<text class="tick" x="330.0" y="1129.5" text-anchor="middle">-2.5</text>
<text class="tick" x="886.2" y="1129.5" text-anchor="middle">0.0</text>
<text class="tick" x="1442.4" y="1129.5" text-anchor="middle">2.5</text>
<text class="tick" x="1998.5" y="1129.5" text-anchor="middle">5.0</text>
<text class="tick" x="144" y="1045.5" text-anchor="end">-1</text>
<text class="tick" x="147" y="827.4" text-anchor="end">0</text>
<text class="tick" x="144" y="609.3" text-anchor="end">1</text>
<text class="tick" x="147" y="391.3" text-anchor="end">2</text>
<text class="axt" x="1119.0" y="1199" text-anchor="middle">Source value (i)</text>
<text class="axt" transform="translate(77,617.6) rotate(-90)" text-anchor="middle">Target values (lagged i)</text>
<text x="311" y="1388" font-size="67" font-weight="bold" fill="#000">Quadrant</text>
<g stroke="#000" stroke-opacity="0.5" stroke-width="0.75" fill-opacity="0.65">
<circle cx="668" cy="1317" r="22.3" fill="#d71424"/>
<circle cx="668" cy="1412" r="22.3" fill="#fa8072"/>
<circle cx="1336" cy="1317" r="22.3" fill="#add8e6"/>
<circle cx="1336" cy="1412" r="22.3" fill="#2c7bb6"/>
</g>
<text class="leg" x="724" y="1334.5">high(source) — high(lag)</text>
<text class="leg" x="724" y="1429.5">high(source) — low(lag)</text>
<text class="leg" x="1393" y="1334.5">low(source) — high(lag)</text>
<text class="leg" x="1393" y="1429.5">low(source) — low(lag)</text>
</svg>
</body></html>
